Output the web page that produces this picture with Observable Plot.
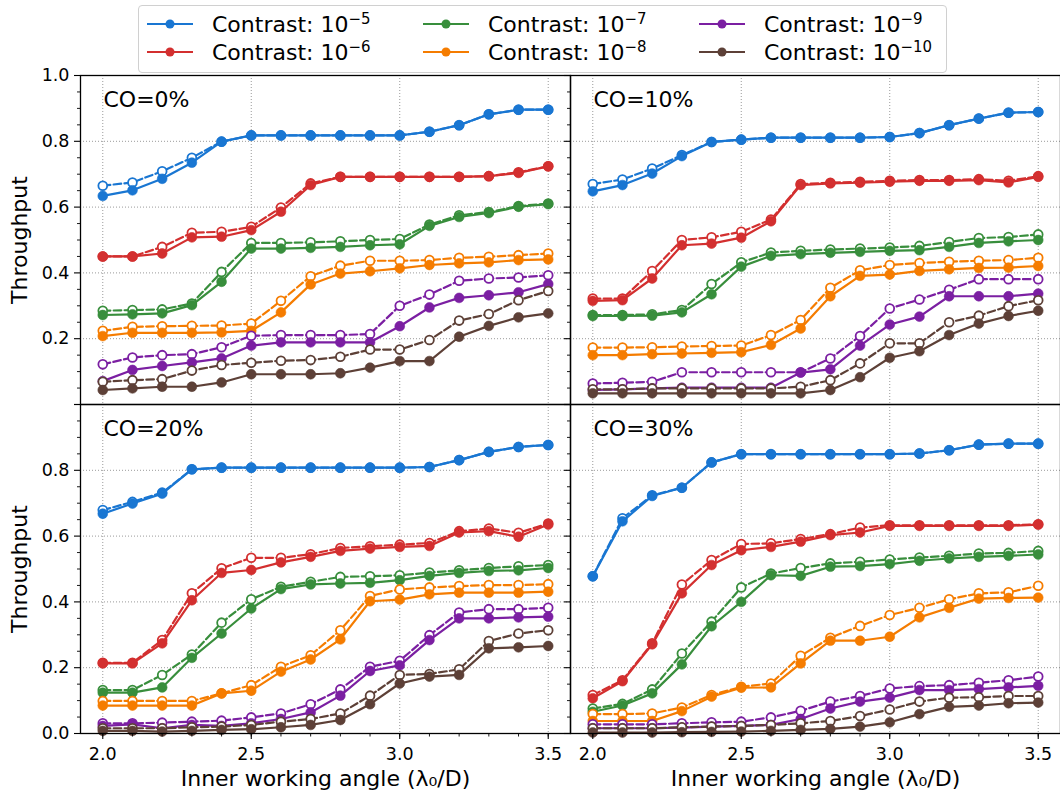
<!DOCTYPE html>
<html>
<head>
<meta charset="utf-8">
<script src="https://cdn.jsdelivr.net/npm/d3@7"></script>
<script src="https://cdn.jsdelivr.net/npm/@observablehq/plot@0.6"></script>
<style>
html, body { margin: 0; padding: 0; background: #fff; overflow: hidden; }
body { width: 1060px; height: 791px; font-family: "DejaVu Sans", sans-serif; }
#legend { position: relative; width: 1060px; height: 62px; z-index: 2; }
.lbox { position: absolute; left: 138px; top: 5px; width: 809px; height: 68px; border: 1px solid #d0d0d0; border-radius: 4px; box-sizing: border-box; background: #fff; }
.item { position: absolute; height: 28px; display: flex; align-items: center; font-size: 22px; color: #000; white-space: nowrap; }
.item svg { margin-right: 18px; flex: none; }
.item sup { font-size: 68%; vertical-align: 0.55em; line-height: 0; }
#chart svg { display: block; max-width: none; }
</style>
</head>
<body>
<div id="legend"><div class="lbox"></div></div>
<div id="chart"></div>
<script>
// ---------- data ----------
const angles = [2.0, 2.1, 2.2, 2.3, 2.4, 2.5, 2.6, 2.7, 2.8, 2.9, 3.0, 3.1, 3.2, 3.3, 3.4, 3.5];
const contrastExponents = [-5, -6, -7, -8, -9, -10];
const colors = ["#1976D2", "#D32F2F", "#388E3C", "#F57C00", "#7B1FA2", "#5D4037"];
const panelLabels = ["CO=0%", "CO=10%", "CO=20%", "CO=30%"];
const xTicks = [2.0, 2.5, 3.0, 3.5];
const xMinorTicks = [2.0, 2.1, 2.2, 2.3, 2.4, 2.5, 2.6, 2.7, 2.8, 2.9, 3.0, 3.1, 3.2, 3.3, 3.4, 3.5];
const yGridTicks = [0.2, 0.4, 0.6, 0.8];
const yMajorTicks = [0, 0.2, 0.4, 0.6, 0.8, 1.0];
const yMinorTicks = [0.05, 0.1, 0.15, 0.25, 0.3, 0.35, 0.45, 0.5, 0.55, 0.65, 0.7, 0.75, 0.85, 0.9, 0.95];
const yTickLabelsTop = [0.2, 0.4, 0.6, 0.8, 1.0];
const yTickLabelsBottom = [0.0, 0.2, 0.4, 0.6, 0.8];

// rows: contrast 1e-5 .. 1e-10 ; filled markers = solid, open markers = dashed
const co0Solid = [
  [0.634,0.651,0.686,0.735,0.799,0.818,0.818,0.818,0.818,0.818,0.818,0.829,0.849,0.882,0.896,0.896],
  [0.450,0.450,0.459,0.508,0.510,0.530,0.586,0.667,0.692,0.692,0.692,0.692,0.692,0.694,0.704,0.724],
  [0.272,0.274,0.277,0.302,0.373,0.474,0.474,0.476,0.479,0.484,0.487,0.543,0.570,0.582,0.601,0.609],
  [0.208,0.218,0.218,0.218,0.219,0.224,0.280,0.365,0.398,0.405,0.414,0.424,0.429,0.432,0.439,0.441],
  [0.071,0.105,0.117,0.128,0.140,0.179,0.189,0.189,0.189,0.189,0.238,0.295,0.324,0.332,0.341,0.366],
  [0.044,0.049,0.054,0.054,0.067,0.092,0.092,0.092,0.095,0.112,0.132,0.132,0.206,0.239,0.265,0.277]
];
const co0Dashed = [
  [0.665,0.675,0.709,0.750,0.799,0.818,0.818,0.818,0.818,0.818,0.818,0.829,0.849,0.882,0.896,0.896],
  [0.450,0.450,0.479,0.522,0.525,0.540,0.599,0.672,0.692,0.692,0.692,0.692,0.692,0.694,0.706,0.724],
  [0.285,0.287,0.289,0.307,0.403,0.491,0.491,0.493,0.496,0.500,0.503,0.547,0.575,0.585,0.603,0.611],
  [0.224,0.236,0.238,0.239,0.240,0.246,0.315,0.390,0.422,0.437,0.437,0.439,0.446,0.449,0.454,0.459],
  [0.122,0.143,0.150,0.153,0.174,0.209,0.211,0.211,0.211,0.214,0.300,0.334,0.376,0.383,0.386,0.393],
  [0.069,0.074,0.077,0.103,0.120,0.127,0.133,0.135,0.145,0.167,0.167,0.196,0.255,0.275,0.317,0.345]
];
const co10Solid = [
  [0.648,0.667,0.702,0.755,0.798,0.805,0.811,0.811,0.811,0.811,0.813,0.825,0.849,0.869,0.887,0.889],
  [0.315,0.317,0.383,0.484,0.489,0.507,0.557,0.667,0.672,0.674,0.677,0.680,0.680,0.682,0.675,0.692],
  [0.269,0.269,0.270,0.280,0.335,0.419,0.452,0.457,0.461,0.464,0.467,0.469,0.479,0.491,0.496,0.500],
  [0.150,0.150,0.153,0.155,0.157,0.159,0.181,0.231,0.329,0.391,0.395,0.406,0.411,0.415,0.416,0.421],
  [0.044,0.046,0.049,0.051,0.051,0.051,0.051,0.097,0.107,0.179,0.243,0.267,0.329,0.329,0.329,0.337],
  [0.034,0.034,0.034,0.034,0.034,0.034,0.034,0.034,0.044,0.083,0.142,0.162,0.211,0.246,0.269,0.285]
];
const co10Dashed = [
  [0.670,0.684,0.717,0.758,0.798,0.805,0.811,0.811,0.811,0.811,0.813,0.825,0.849,0.869,0.887,0.889],
  [0.322,0.322,0.406,0.500,0.508,0.525,0.562,0.670,0.674,0.677,0.680,0.682,0.682,0.685,0.680,0.694],
  [0.272,0.272,0.274,0.287,0.366,0.432,0.462,0.467,0.471,0.474,0.477,0.482,0.494,0.506,0.509,0.517],
  [0.173,0.173,0.174,0.176,0.178,0.179,0.211,0.257,0.355,0.408,0.424,0.430,0.434,0.437,0.439,0.446],
  [0.064,0.066,0.069,0.098,0.098,0.098,0.098,0.098,0.140,0.208,0.292,0.319,0.349,0.381,0.381,0.381],
  [0.046,0.046,0.049,0.049,0.049,0.049,0.049,0.054,0.074,0.125,0.186,0.186,0.250,0.270,0.299,0.317]
];
const co20Solid = [
  [0.668,0.699,0.729,0.803,0.808,0.808,0.808,0.808,0.808,0.808,0.808,0.810,0.831,0.856,0.871,0.877],
  [0.213,0.213,0.274,0.405,0.488,0.497,0.520,0.537,0.555,0.562,0.567,0.570,0.611,0.615,0.598,0.635],
  [0.124,0.124,0.140,0.230,0.304,0.380,0.439,0.453,0.456,0.458,0.466,0.479,0.488,0.494,0.496,0.503],
  [0.085,0.085,0.085,0.085,0.122,0.130,0.188,0.225,0.286,0.402,0.407,0.423,0.428,0.428,0.428,0.431],
  [0.023,0.028,0.016,0.026,0.023,0.031,0.044,0.064,0.115,0.190,0.207,0.284,0.350,0.350,0.353,0.355],
  [0.008,0.008,0.006,0.008,0.011,0.013,0.019,0.026,0.041,0.089,0.152,0.173,0.178,0.259,0.262,0.266]
];
const co20Dashed = [
  [0.679,0.704,0.732,0.803,0.808,0.808,0.808,0.808,0.808,0.808,0.808,0.810,0.831,0.856,0.871,0.877],
  [0.215,0.215,0.284,0.426,0.502,0.534,0.534,0.545,0.564,0.569,0.574,0.579,0.615,0.623,0.610,0.638],
  [0.132,0.132,0.178,0.240,0.337,0.408,0.446,0.461,0.476,0.478,0.481,0.489,0.496,0.503,0.508,0.512],
  [0.099,0.099,0.099,0.099,0.122,0.147,0.203,0.238,0.314,0.418,0.438,0.444,0.448,0.451,0.451,0.454],
  [0.031,0.031,0.033,0.036,0.039,0.049,0.061,0.089,0.134,0.203,0.221,0.299,0.368,0.378,0.378,0.382],
  [0.016,0.016,0.016,0.019,0.021,0.026,0.036,0.044,0.061,0.115,0.178,0.181,0.195,0.281,0.304,0.314]
];
const co30Solid = [
  [0.478,0.645,0.722,0.747,0.824,0.849,0.849,0.849,0.849,0.849,0.849,0.851,0.861,0.878,0.881,0.881],
  [0.107,0.159,0.271,0.426,0.512,0.557,0.567,0.583,0.603,0.611,0.631,0.631,0.631,0.631,0.631,0.635],
  [0.066,0.085,0.122,0.210,0.326,0.400,0.481,0.479,0.507,0.509,0.515,0.525,0.532,0.537,0.540,0.544],
  [0.038,0.038,0.038,0.068,0.112,0.139,0.140,0.213,0.282,0.282,0.294,0.353,0.382,0.410,0.412,0.413],
  [0.016,0.016,0.016,0.018,0.021,0.023,0.026,0.044,0.076,0.097,0.109,0.132,0.132,0.135,0.140,0.145],
  [0.003,0.003,0.003,0.004,0.005,0.006,0.008,0.011,0.014,0.021,0.034,0.059,0.081,0.085,0.092,0.094]
];
const co30Dashed = [
  [0.478,0.654,0.724,0.747,0.824,0.849,0.849,0.849,0.849,0.849,0.849,0.851,0.861,0.878,0.881,0.881],
  [0.117,0.162,0.274,0.453,0.527,0.576,0.578,0.591,0.606,0.626,0.633,0.633,0.633,0.633,0.633,0.636],
  [0.076,0.090,0.134,0.243,0.340,0.444,0.486,0.503,0.517,0.522,0.529,0.535,0.540,0.547,0.549,0.555],
  [0.059,0.059,0.061,0.079,0.117,0.142,0.152,0.236,0.291,0.327,0.360,0.382,0.408,0.426,0.429,0.449],
  [0.028,0.028,0.028,0.031,0.034,0.036,0.049,0.069,0.097,0.114,0.137,0.144,0.147,0.154,0.162,0.173],
  [0.016,0.016,0.016,0.019,0.021,0.023,0.026,0.031,0.038,0.053,0.073,0.097,0.109,0.110,0.114,0.114]
];

// ---------- tidy table ----------
const panelSolid = [co0Solid, co10Solid, co20Solid, co30Solid];
const panelDashed = [co0Dashed, co10Dashed, co20Dashed, co30Dashed];
const panelCol = p => p % 2;
const panelRow = p => Math.floor(p / 2);

const rows = [];
panelLabels.forEach((lab, p) => {
  [["dashed", panelDashed[p]], ["solid", panelSolid[p]]].forEach(([style, arr]) => {
    arr.forEach((vals, ci) => vals.forEach((v, k) => rows.push({
      col: panelCol(p), row: panelRow(p), contrast: ci, style, x: angles[k], y: v
    })));
  });
});

// ---------- legend (HTML) ----------
const legend = document.getElementById("legend");
const legCols = [146, 422, 698];
const legRows = [24, 52];
const supText = e => "\u2212" + String(Math.abs(e));
contrastExponents.forEach((e, i) => {
  const c = Math.floor(i / 2), r = i % 2;
  const div = document.createElement("div");
  div.className = "item";
  div.style.left = legCols[c] + "px";
  div.style.top = (legRows[r] - 14) + "px";
  div.innerHTML = `<svg width="48" height="14"><line x1="1" y1="7" x2="47" y2="7" stroke="${colors[i]}" stroke-width="2.2"/><circle cx="24" cy="7" r="4.5" fill="${colors[i]}"/></svg><span>Contrast: 10<sup>${supText(e)}</sup></span>`;
  legend.appendChild(div);
});

// ---------- chart ----------
const f1 = d3.format(".1f");
const seriesMarks = [];
contrastExponents.forEach((e, ci) => {
  ["dashed", "solid"].forEach(style => {
    const d = rows.filter(r => r.contrast === ci && r.style === style);
    const dashed = style === "dashed";
    seriesMarks.push(Plot.line(d, {
      x: "x", y: "y", fx: "col", fy: "row",
      stroke: colors[ci], strokeWidth: 2.2,
      ...(dashed ? {strokeDasharray: "7.6,3.3"} : {})
    }));
    seriesMarks.push(Plot.dot(d, {
      x: "x", y: "y", fx: "col", fy: "row",
      r: dashed ? 4.4 : 4.9,
      fill: dashed ? "white" : colors[ci],
      stroke: colors[ci], strokeWidth: dashed ? 1.8 : 0.6
    }));
  });
});

const yTickRows = [
  ...yTickLabelsTop.map(v => ({col: 0, row: 0, v})),
  ...yTickLabelsBottom.map(v => ({col: 0, row: 1, v}))
];
const panelRows = panelLabels.map((t, p) => ({col: panelCol(p), row: panelRow(p), t}));
const yLabelRows = [{col: 0, row: 0}, {col: 0, row: 1}];
const xLabelRows = [{col: 0, row: 1}, {col: 1, row: 1}];

const gridStyle = {stroke: "#9a9a9a", strokeOpacity: 1, strokeWidth: 1, strokeDasharray: "1,2"};

const chart = Plot.plot({
  width: 1060,
  height: 729,
  marginTop: 13,
  marginBottom: 57.7,
  marginLeft: 79.3,
  marginRight: -4,
  facet: {marginTop: 0, marginRight: 0, marginBottom: 0, marginLeft: 0},
  fx: {domain: [0, 1], padding: 0, axis: null},
  fy: {domain: [0, 1], padding: 0, axis: null},
  x: {domain: [1.925, 3.575]},
  y: {domain: [0, 1]},
  style: {fontFamily: "DejaVu Sans", fontSize: "17.5px", color: "black", background: "white"},
  marks: [
    Plot.gridX(xTicks, gridStyle),
    Plot.gridY(yGridTicks, gridStyle),
    ...seriesMarks,
    Plot.frame({stroke: "black", strokeWidth: 1.3}),
    Plot.axisY(yMajorTicks, {anchor: "left", facetAnchor: "left", tickSize: 6, fill: "none", label: null, strokeWidth: 1.1}),
    Plot.axisY(yMajorTicks, {anchor: "left", facetAnchor: "right", tickSize: 6, fill: "none", label: null, strokeWidth: 1.1}),
    Plot.axisY(yMinorTicks, {anchor: "left", facetAnchor: "left", tickSize: 3, fill: "none", label: null, strokeWidth: 0.9}),
    Plot.axisY(yMinorTicks, {anchor: "left", facetAnchor: "right", tickSize: 3, fill: "none", label: null, strokeWidth: 0.9}),
    Plot.axisX(xTicks, {anchor: "bottom", tickSize: 6, tickPadding: 8.3, tickFormat: f1, fontSize: 17.5, label: null, strokeWidth: 1.1}),
    Plot.axisX(xMinorTicks, {anchor: "bottom", tickSize: 3.5, fill: "none", label: null, strokeWidth: 0.9}),
    Plot.text(yTickRows, {fx: "col", fy: "row", y: "v", text: d => f1(d.v), frameAnchor: "left", textAnchor: "end", dx: -11, fontSize: 17.5}),
    Plot.text(panelRows, {fx: "col", fy: "row", text: "t", frameAnchor: "top-left", textAnchor: "start", lineAnchor: "top", dx: 23, dy: 16, fontSize: 22}),
    Plot.text(yLabelRows, {fx: "col", fy: "row", text: () => "Throughput", frameAnchor: "left", rotate: -90, dx: -60.5, fontSize: 22, textAnchor: "middle", lineAnchor: "middle"}),
    Plot.text(xLabelRows, {fx: "col", fy: "row", text: () => "Inner working angle (\u03bb\u2080/D)", frameAnchor: "bottom", dy: 45, fontSize: 22, textAnchor: "middle", lineAnchor: "middle"})
  ]
});
document.getElementById("chart").appendChild(chart);
</script>
</body>
</html>
